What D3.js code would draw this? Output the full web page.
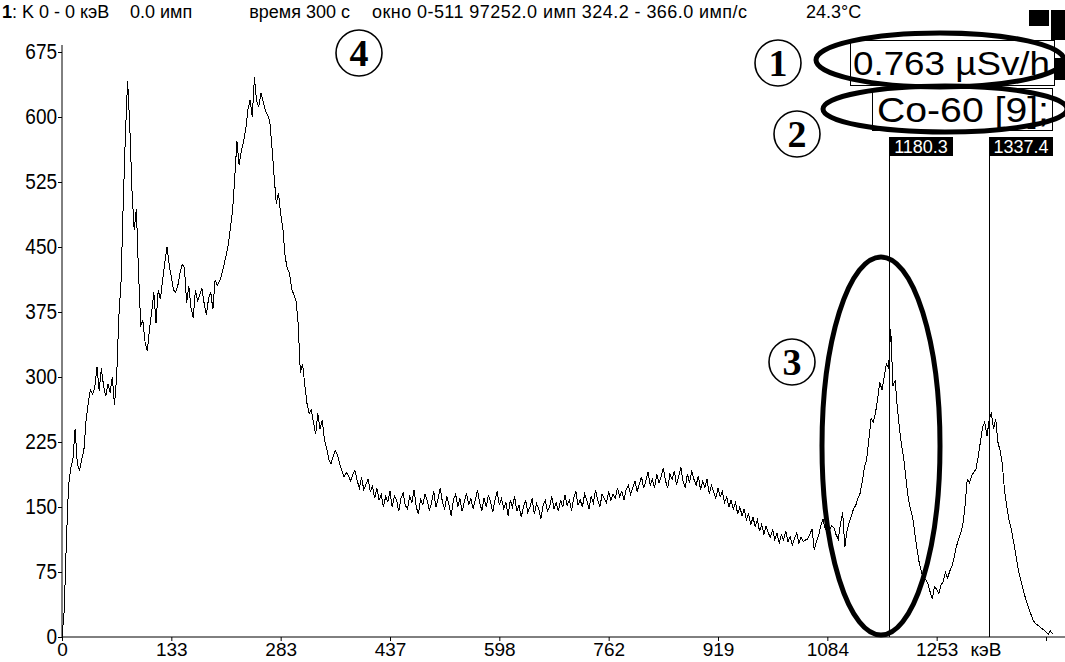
<!DOCTYPE html>
<html><head><meta charset="utf-8">
<script src="https://cdn.jsdelivr.net/npm/d3@7"></script>
<style>
html,body{margin:0;padding:0;background:#fff;}
svg{display:block;}
text{font-family:"Liberation Sans",Arial,sans-serif;}
.tall{transform-box:fill-box;transform-origin:50% 85%;transform:scaleY(1.15);}
</style></head>
<body>
<svg id="c" width="1065" height="662"></svg>
<script>
// ---- data ----
const energyLabels = ["0","133","283","437","598","762","919","1084","1253",""];
const tickChannels = [0,50,100,150,200,250,300,350,400,450];
const yTickValues = [0,75,150,225,300,375,450,525,600,675];
const markerLabels = ["1180.3","1337.4"];
const markerChannels = [378.2, 424];
const headerParts = ["K 0 - 0 кэВ","0.0 имп","время 300 с","окно 0-511 97252.0 имп 324.2 - 366.0 имп/с","24.3°C"];
const doseText = "0.763 µSv/h";
const nuclideText = "Co-60 [9];";
const unitText = "кэВ";
const counts = [
0,30,110,175,195,205,240,200,192,205,
215,250,270,285,280,288,312,284,310,290,
278,292,282,300,268,300,370,410,500,580,
642,590,515,470,494,420,360,365,340,330,
355,375,398,362,400,390,412,432,450,430,
415,400,398,406,420,430,426,386,405,380,
368,400,388,395,402,385,372,390,398,378,
412,406,410,418,428,440,452,472,492,530,
572,545,560,572,585,608,620,600,646,618,
612,628,618,608,602,596,566,532,500,512,
488,472,440,425,420,402,395,388,362,305,
315,292,270,258,262,248,234,258,240,250,
228,218,205,200,208,215,210,200,192,185,
190,186,180,188,192,180,172,184,170,176,
182,168,174,160,172,158,164,150,162,156,
168,150,163,158,145,160,166,152,148,162,
155,170,150,142,160,152,165,158,146,155,
168,150,160,172,155,148,162,152,140,158,
165,150,160,145,156,166,152,160,148,158,
170,155,146,160,150,164,156,144,158,168,
152,160,148,155,140,158,150,162,145,152,
138,150,158,144,150,160,142,154,148,136,
152,158,145,150,162,148,155,145,158,150,
164,152,158,146,160,168,152,158,150,165,
158,148,162,155,170,158,150,165,160,155,
168,158,165,160,172,162,168,158,170,175,
165,172,180,168,176,185,172,180,190,175,
182,172,188,178,185,195,180,172,188,182,
192,176,185,196,180,172,188,178,192,182,
175,186,170,180,172,182,165,175,168,160,
172,162,168,155,162,150,158,148,155,142,
150,140,148,135,142,130,138,128,135,122,
130,118,128,120,115,124,112,120,108,118,
112,122,110,116,106,114,120,108,115,110,
112,113,118,125,100,110,117,128,136,125,
121,124,128,126,118,113,130,144,104,122,
132,140,148,152,160,166,180,196,205,228,
252,248,258,275,294,285,300,315,310,355,
290,296,265,240,220,205,182,160,148,138,
120,102,86,75,67,66,62,52,44,58,
55,50,60,64,75,68,76,82,92,104,
113,120,130,152,182,178,186,190,194,208,
225,242,248,232,250,259,240,252,225,215,
200,170,152,136,126,112,98,82,70,60,
50,42,34,27,20,16,14,12,10,8,
6,3,7,4
];

// ---- chart ----
const svg = d3.select("#c");
const x = d3.scaleLinear().domain([0,450]).range([62,1046]);
const y = d3.scaleLinear().domain([0,675]).range([637,52]);

// header
const hdr = svg.append("text").attr("x",2).attr("y",18).attr("font-size",18).attr("fill","#000");
hdr.append("tspan").attr("font-weight","bold").text("1");
hdr.append("tspan").text(": " + headerParts[0]);
svg.append("text").attr("x",130).attr("y",18).attr("font-size",18).text(headerParts[1]);
svg.append("text").attr("x",350).attr("y",18).attr("font-size",18).attr("text-anchor","end").text(headerParts[2]);
svg.append("text").attr("x",372).attr("y",18).attr("font-size",18)
  .attr("textLength",375).attr("lengthAdjust","spacing").text(headerParts[3]);
svg.append("text").attr("x",806).attr("y",18).attr("font-size",18).text(headerParts[4]);

// y axis
const yAxis = d3.axisLeft(y).tickValues(yTickValues).tickSize(4).tickSizeOuter(0).tickFormat(d3.format("d"));
const gy = svg.append("g").attr("transform","translate(62,0)").call(yAxis);
gy.select(".domain").attr("stroke","#000").attr("d","M0,45V637");
gy.selectAll("text").attr("class","tall").attr("font-size",19).attr("fill","#000").attr("font-family","Liberation Sans, Arial").attr("x",-5);
gy.selectAll("line").attr("stroke","#000");

// x axis
const xAxis = d3.axisBottom(x).tickValues(tickChannels).tickSize(4).tickSizeOuter(0).tickFormat((d,i)=>energyLabels[i]);
const gx = svg.append("g").attr("transform","translate(0,637)").call(xAxis);
gx.select(".domain").attr("stroke","#000").attr("d","M62,0H1065");
gx.selectAll("text").attr("font-size",19).attr("fill","#000").attr("font-family","Liberation Sans, Arial").attr("y",6);
gx.selectAll("line").attr("stroke","#000");
svg.append("text").attr("x",986).attr("y",656).attr("font-size",19).attr("text-anchor","middle").text(unitText);

// marker lines + labels
svg.selectAll("line.mk").data(markerChannels).join("line").attr("class","mk")
  .attr("x1",d=>Math.round(x(d))+0.5).attr("x2",d=>Math.round(x(d))+0.5)
  .attr("y1",156).attr("y2",637).attr("stroke","#000").attr("stroke-width",1);
const mk = svg.selectAll("g.mkl").data(markerChannels).join("g").attr("class","mkl")
  .attr("transform",d=>`translate(${Math.round(x(d))},137)`);
mk.append("rect").attr("x",0).attr("y",0).attr("width",64).attr("height",19).attr("fill","#000");
mk.append("text").attr("x",32).attr("y",16).attr("text-anchor","middle").attr("font-size",18)
  .attr("fill","#fff").text((d,i)=>markerLabels[i]);

// spectrum line
svg.append("path").datum(counts).attr("fill","none").attr("stroke","#000").attr("stroke-width",1)
  .attr("shape-rendering","crispEdges")
  .attr("d",d3.line().x((d,i)=>x(i)).y(d=>y(d)));

// top right widgets
svg.append("rect").attr("x",1029).attr("y",10).attr("width",20).attr("height",16).attr("fill","#000");
svg.append("rect").attr("x",1051).attr("y",10).attr("width",14).attr("height",30).attr("fill","#000");
svg.append("rect").attr("x",1055).attr("y",58).attr("width",10).attr("height",22).attr("fill","#000");
svg.append("rect").attr("x",850.5).attr("y",40.5).attr("width",204).attr("height",45).attr("fill","#fff").attr("stroke","#000");
svg.append("text").attr("x",853).attr("y",75).attr("font-size",33)
  .attr("textLength",197).attr("lengthAdjust","spacingAndGlyphs").text(doseText);
svg.append("rect").attr("x",872.5).attr("y",88.5).attr("width",180).attr("height",42).attr("fill","#fff").attr("stroke","#000");
svg.append("text").attr("x",877).attr("y",122).attr("font-size",35)
  .attr("textLength",172).attr("lengthAdjust","spacingAndGlyphs").text(nuclideText);

// annotation ellipses
const ell = [[940,60,124,27],[945,109,122,23],[881,446,59,189]];
svg.selectAll("ellipse.an").data(ell).join("ellipse").attr("class","an")
  .attr("cx",d=>d[0]).attr("cy",d=>d[1]).attr("rx",d=>d[2]).attr("ry",d=>d[3])
  .attr("fill","none").attr("stroke","#000").attr("stroke-width",5);

// circled numbers
const circ = [["1",778,63],["2",797,134],["3",792,362],["4",359,53]];
const cg = svg.selectAll("g.cn").data(circ).join("g").attr("class","cn")
  .attr("transform",d=>`translate(${d[1]},${d[2]})`);
cg.append("circle").attr("r",23).attr("fill","none").attr("stroke","#000").attr("stroke-width",1.6);
cg.append("text").attr("text-anchor","middle").attr("y",13).attr("font-size",38).attr("font-weight","bold")
  .style("font-family","'Liberation Serif','DejaVu Serif',serif").text(d=>d[0]);
</script>
</body></html>
